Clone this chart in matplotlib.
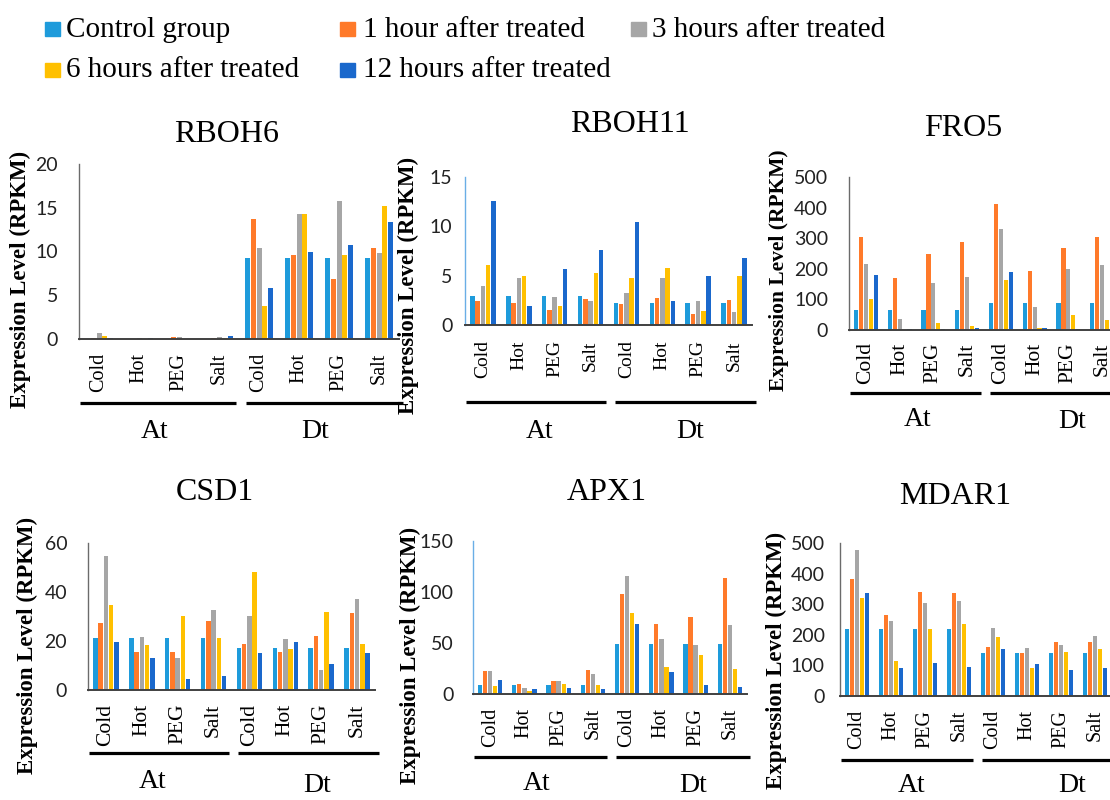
import matplotlib
matplotlib.use("Agg")
import matplotlib.pyplot as plt
from matplotlib.patches import Rectangle
from matplotlib.transforms import blended_transform_factory
import numpy as np

W, H = 1110, 800

conditions = ["Cold", "Hot", "PEG", "Salt", "Cold", "Hot", "PEG", "Salt"]
subgenomes = ["At", "Dt"]
series = ["Control group", "1 hour after treated", "3 hours after treated",
          "6 hours after treated", "12 hours after treated"]
colors = ["#1E9BDB", "#FF7A2A", "#A6A6A6", "#FFC000", "#1A68CC"]

# values per series (rows) for the 8 groups: At Cold/Hot/PEG/Salt, Dt Cold/Hot/PEG/Salt
rboh6 = [
    [0.05, 0.02, 0.05, 0.05, 9.3, 9.3, 9.3, 9.3],
    [0.1, 0.05, 0.25, 0.15, 13.7, 9.6, 6.9, 10.4],
    [0.7, 0.1, 0.2, 0.2, 10.4, 14.3, 15.8, 9.8],
    [0.35, 0.05, 0.05, 0.1, 3.8, 14.3, 9.6, 15.2],
    [0.1, 0.15, 0.05, 0.35, 5.8, 9.9, 10.7, 13.4],
]
rboh11 = [
    [2.9, 2.9, 2.9, 2.9, 2.2, 2.2, 2.2, 2.2],
    [2.4, 2.2, 1.5, 2.6, 2.1, 2.7, 1.1, 2.5],
    [4.0, 4.8, 2.8, 2.4, 3.2, 4.8, 2.4, 1.3],
    [6.1, 5.0, 1.9, 5.3, 4.8, 5.8, 1.4, 5.0],
    [12.6, 1.9, 5.7, 7.6, 10.4, 2.4, 5.0, 6.8],
]
fro5 = [
    [65, 65, 65, 65, 88, 88, 88, 88],
    [304, 169, 250, 287, 413, 193, 268, 304],
    [215, 36, 153, 173, 330, 74, 198, 212],
    [100, 1, 23, 12, 163, 5, 50, 33],
    [180, 3, 3, 5, 190, 8, 4, 5],
]
csd1 = [
    [21.3, 21.3, 21.3, 21.3, 17.0, 17.0, 17.0, 17.0],
    [27.4, 15.5, 15.5, 28.1, 18.9, 15.5, 22.1, 31.5],
    [54.5, 21.7, 12.9, 32.8, 30.1, 21.0, 8.1, 37.0],
    [34.6, 18.3, 30.3, 21.3, 48.2, 16.7, 31.9, 18.6],
    [19.7, 12.9, 4.3, 5.7, 14.9, 19.7, 10.7, 14.9],
]
apx1 = [
    [8.5, 8.5, 8.5, 8.5, 48.9, 48.9, 48.9, 48.9],
    [22.5, 9.8, 12.7, 23.5, 98.4, 68.7, 75.6, 113.4],
    [22.5, 6.2, 12.7, 19.5, 116.0, 54.0, 47.6, 68.0],
    [8.1, 3.3, 9.4, 8.5, 79.5, 26.4, 38.4, 24.4],
    [14.0, 4.9, 5.9, 4.6, 69.0, 21.8, 9.1, 7.2],
]
mdar1 = [
    [219, 219, 219, 219, 141, 141, 141, 141],
    [381, 266, 340, 338, 161, 141, 175, 177],
    [478, 244, 304, 312, 221, 156, 167, 196],
    [321, 116, 219, 236, 194, 93, 145, 152],
    [338, 92, 108, 96, 152, 104, 86, 91],
]

genes = ["RBOH6", "RBOH11", "FRO5", "CSD1", "APX1", "MDAR1"]
gene_values = [rboh6, rboh11, fro5, csd1, apx1, mdar1]
y_limits = [20, 15, 500, 60, 150, 500]
y_steps = [5, 5, 100, 20, 50, 100]

# layout in pixels: axes left, right, zero line y, top y
axes_px = [(79, 399, 339, 164), (465, 752, 325, 177), (849, 1119, 330, 177),
           (88, 375, 690, 543), (473, 747, 694, 541), (840, 1112, 696, 543)]
left_spine = ["#6b6b6b", "#6AAEE6", "#6b6b6b", "#6b6b6b", "#6AAEE6", "#6b6b6b"]
ytick_pad = [15, 9, 15, 15, 14, 11]
xtick_size = [14.5, 14, 15.5, 15.5, 14.5, 14.5]
xtick_pad = [10, 11, 9, 10, 10, 10]
title_px = [(227, 135), (630, 125), (963, 128), (215, 493), (607, 493), (955, 497)]
ylabel_px = [(20, 279), (408, 285), (779, 270), (27, 645), (410, 655), (776, 660)]
ylabel_size = [16.5, 16.5, 15.5, 16.5, 16.5, 16.5]
bracket_y = [403, 402, 393, 753, 757, 760]
group_label_px = [((155, 432), (315, 432)), ((540, 432), (690, 432)),
                  ((918, 420), (1072, 422)), ((153, 781), (317, 785)),
                  ((537, 784), (693, 785)), ((912, 785), (1072, 785))]


def fx(x):
    return x / W


def fy(y):
    return 1 - y / H


plt.rcParams["font.family"] = ["Liberation Serif", "DejaVu Serif"]
fig = plt.figure(figsize=(W / 100, H / 100), dpi=100)

x = np.arange(len(conditions))
bar_w = 0.125
step = 0.147

for k, gene in enumerate(genes):
    l, r, y0, yt = axes_px[k]
    ax = fig.add_axes([fx(l), fy(y0), (r - l) / W, (y0 - yt) / H])
    for s, vals in enumerate(gene_values[k]):
        ax.bar(x + (s - 2) * step, vals, width=bar_w, color=colors[s], zorder=2)
    ax.set_xlim(-0.5, len(conditions) - 0.5)
    ax.set_ylim(0, y_limits[k])
    ax.set_yticks(np.arange(0, y_limits[k] + 1, y_steps[k]))
    ax.set_xticks(x)
    ax.set_xticklabels(conditions, rotation=90, fontsize=xtick_size[k])
    for lbl in ax.get_yticklabels():
        lbl.set_fontfamily("Lato")
        lbl.set_fontsize(14)
        lbl.set_color("#222222")
    ax.tick_params(axis="y", length=0, pad=ytick_pad[k])
    ax.tick_params(axis="x", length=0, pad=xtick_pad[k])
    for side in ["top", "right"]:
        ax.spines[side].set_visible(False)
    ax.spines["left"].set_color(left_spine[k])
    ax.spines["left"].set_linewidth(1.0)
    ax.spines["bottom"].set_color("#404040")
    ax.spines["bottom"].set_linewidth(1.4)
    ax.patch.set_alpha(0)

    # At / Dt brackets under the condition labels
    trans = blended_transform_factory(ax.transData, fig.transFigure)
    ax.plot([-0.48, 3.42], [fy(bracket_y[k])] * 2, transform=trans,
            clip_on=False, color="black", lw=2.3, solid_capstyle="butt")
    ax.plot([3.68, 7.6], [fy(bracket_y[k])] * 2, transform=trans,
            clip_on=False, color="black", lw=2.3, solid_capstyle="butt")
    for name, (gx, gy) in zip(subgenomes, group_label_px[k]):
        fig.text(fx(gx), fy(gy), name, ha="center", va="center", fontsize=20)

    fig.text(fx(title_px[k][0]), fy(title_px[k][1]), gene, ha="center",
             va="center", fontsize=23)
    fig.text(fx(ylabel_px[k][0]), fy(ylabel_px[k][1]), "Expression Level (RPKM)",
             rotation=90, ha="center", va="center", fontweight="bold",
             fontsize=ylabel_size[k])

# legend drawn by hand to keep the original row order
legend_cells = [(45, 66, 22, 37), (340, 363, 22, 37), (631, 652, 22, 37),
                (45, 66, 63, 77), (340, 363, 63, 77)]
for name, c, (sq_x, tx, sq_y, base) in zip(series, colors, legend_cells):
    fig.add_artist(Rectangle((fx(sq_x), fy(sq_y + 14)), 15 / W, 14 / H,
                             color=c, transform=fig.transFigure))
    fig.text(fx(tx), fy(base), name, ha="left", va="baseline", fontsize=21)

fig.savefig("out.png", dpi=100)
